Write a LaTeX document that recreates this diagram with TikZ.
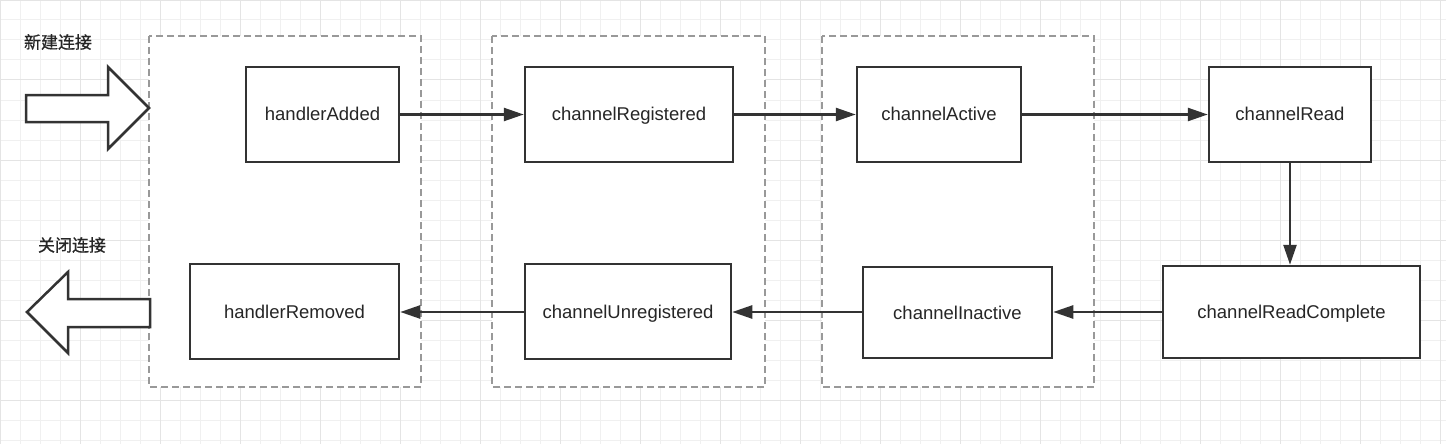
\documentclass[tikz,border=0pt]{standalone}
\usepackage{fontspec}
\setmainfont{Liberation Sans}
\newfontfamily\cjk[FakeBold=0.7]{Noto Sans CJK SC}
\usetikzlibrary{arrows.meta}
\definecolor{ink}{HTML}{333333}
\definecolor{txt}{HTML}{262626}
\definecolor{dash}{HTML}{999999}
\definecolor{gminor}{HTML}{F0F0F0}
\definecolor{gmajor}{HTML}{E4E4E4}
\tikzset{
  stagebox/.style={draw=ink, line width=2.5pt, fill=white, rectangle, inner sep=0pt,
    font=\fontsize{18.5}{20}\selectfont, text=txt, text height=15pt, text depth=2pt},
  groupbox/.style={draw=dash, line width=2pt, dash pattern=on 7pt off 4pt, fill=white},
  flow/.style={draw=ink, line width=2.5pt, -{Triangle[length=20pt,width=13pt]}},
  bigarrow/.style={draw=ink, line width=2.5pt, fill=white, line join=miter},
  cnlabel/.style={font=\cjk\fontsize{17}{19}\selectfont, text=txt}
}
\begin{document}
\begin{tikzpicture}[x=1pt,y=-1pt]
\useasboundingbox (0,0) rectangle (1446,444);
\fill[white] (0,0) rectangle (1446,444);
\draw[gminor, line width=1pt, step=20pt] (0,0) grid (1446,444);
\draw[gmajor, line width=1pt, step=80pt] (0,0) grid (1446,444);

% dashed groups
\draw[groupbox] (149,36) rectangle (421,387);
\draw[groupbox] (492,36) rectangle (765,387);
\draw[groupbox] (822,36) rectangle (1094,387);

% block arrows
\draw[bigarrow] (26,95) -- (108,95) -- (108,67) -- (149,108) -- (108,149) -- (108,122) -- (26,122) -- cycle;
\draw[bigarrow] (150,299) -- (68,299) -- (68,272) -- (27,312) -- (68,353) -- (68,327) -- (150,327) -- cycle;

% labels
\node[cnlabel] (open) at (58,42) {新建连接};
\node[cnlabel] (close) at (72,245) {关闭连接};

% stages
\node[stagebox, minimum width=153pt, minimum height=95pt] (ha) at (322.5,114.5) {handlerAdded};
\node[stagebox, minimum width=208pt, minimum height=95pt] (cr) at (629,114.5) {channelRegistered};
\node[stagebox, minimum width=164pt, minimum height=95pt] (ca) at (939,114.5) {channelActive};
\node[stagebox, minimum width=162pt, minimum height=95pt] (rd) at (1290,114.5) {channelRead};
\node[stagebox, minimum width=257pt, minimum height=92pt] (rc) at (1291.5,312) {channelReadComplete};
\node[stagebox, minimum width=189pt, minimum height=91pt] (ci) at (957.5,312.5) {channelInactive};
\node[stagebox, minimum width=206pt, minimum height=95pt] (cu) at (628,311.5) {channelUnregistered};
\node[stagebox, minimum width=209pt, minimum height=95pt] (hr) at (294.5,311.5) {handlerRemoved};

% flow
\draw[flow] (ha.east) -- (cr.west);
\draw[flow] (cr.east) -- (ca.west);
\draw[flow] (ca.east) -- (rd.west);
\draw[flow] (rd.south) -- (rd.south |- rc.north);
\draw[flow] (rc.west) -- (ci.east |- rc.west);
\draw[flow] (ci.west |- rc.west) -- (cu.east |- rc.west);
\draw[flow] (cu.west |- rc.west) -- (hr.east |- rc.west);
\end{tikzpicture}
\end{document}
